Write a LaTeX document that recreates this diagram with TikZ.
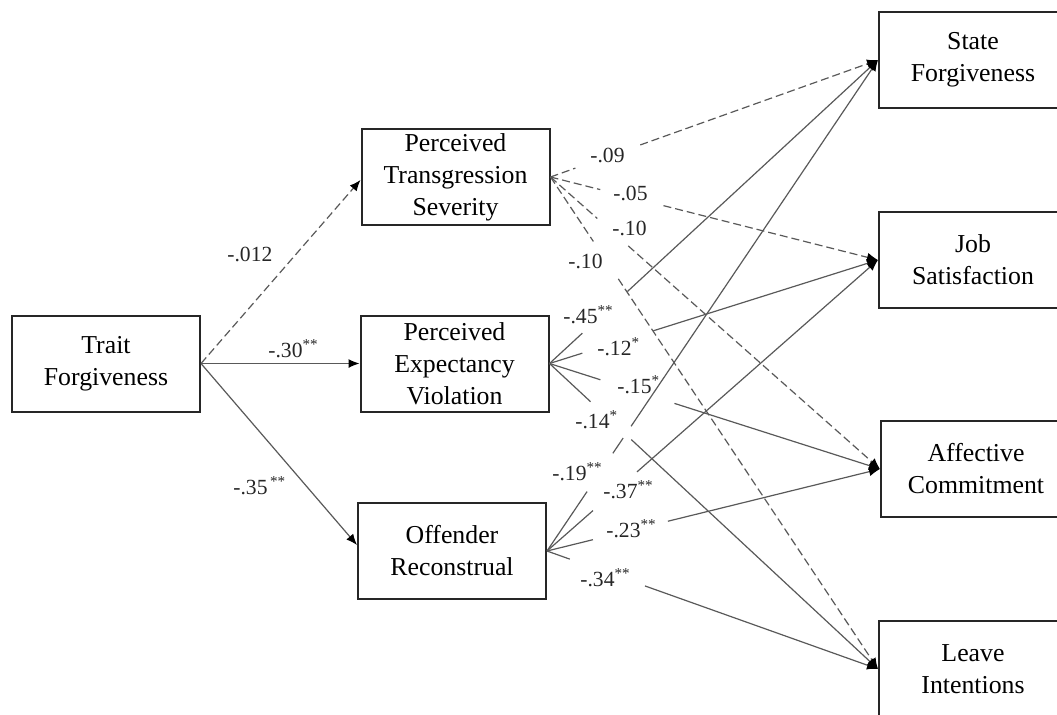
\documentclass[tikz,border=0pt]{standalone}
\usepackage{fontspec}
\setmainfont{Liberation Serif}
\usetikzlibrary{arrows.meta,calc}
\newcommand{\gapln}[5]{\draw[#1] (#2) -- ($(#2)!#4!(#3)$); \draw[#1,tip] ($(#2)!#5!(#3)$) -- (#3);}
\begin{document}
\begin{tikzpicture}[x=0.5pt,y=-0.5pt,
  box/.style={draw=black!85,line width=1pt,minimum width=94pt,minimum height=48pt,align=center,inner sep=0pt,font=\fontsize{12.9}{16}\selectfont},
  conn/.style={draw=black!65,line width=0.6pt},
  dsh/.style={conn,dash pattern=on 4pt off 2pt},
  tip/.style={-{Latex[length=5.5pt,width=4.5pt,color=black]}},
  lab/.style={anchor=base west,inner sep=0pt,font=\fontsize{10.8}{12}\selectfont,text=black!85}]
\useasboundingbox (0,0) rectangle (1057,714);
\clip (0,0) rectangle (1057,714);
% boxes
\node[box] (tf)  at (106,363.5) {Trait\\Forgiveness};
\node[box] (pts) at (455.5,177) {Perceived\\Transgression\\Severity};
\node[box] (pev) at (454.5,363.5) {Perceived\\Expectancy\\Violation};
\node[box] (or)  at (452,551) {Offender\\Reconstrual};
\node[box] (sf)  at (973,60) {State\\Forgiveness};
\node[box] (js)  at (973,260) {Job\\Satisfaction};
\node[box,minimum width=95pt] (ac)  at (976,469) {Affective\\Commitment};
\node[box] (li)  at (973,669) {Leave\\Intentions};
% trait forgiveness paths
\draw[dsh,tip] (tf.east) -- ($(pts.west)+(0,3)$);
\draw[conn,tip] (tf.east) -- (pev.west);
\draw[conn,tip] (tf.east) -- ($(or.west)+(0,-6)$);
% PTS paths
\gapln{dsh}{pts.east}{sf.west}{0.076}{0.274}
\gapln{dsh}{pts.east}{js.west}{0.152}{0.345}
\gapln{dsh}{pts.east}{ac.west}{0.142}{0.236}
\gapln{dsh}{pts.east}{li.west}{0.131}{0.207}
% PEV paths
\gapln{conn}{pev.east}{sf.west}{0.10}{0.237}
\gapln{conn}{pev.east}{js.west}{0.10}{0.316}
\gapln{conn}{pev.east}{ac.west}{0.154}{0.378}
\gapln{conn}{pev.east}{li.west}{0.125}{0.249}
% OR paths
\draw[conn] (or.east) -- ($(or.east)!0.121!(sf.west)$);
\draw[conn] ($(or.east)!0.199!(sf.west)$) -- ($(or.east)!0.230!(sf.west)$);
\draw[conn,tip] ($(or.east)!0.254!(sf.west)$) -- (sf.west);
\gapln{conn}{or.east}{js.west}{0.139}{0.272}
\gapln{conn}{or.east}{ac.west}{0.138}{0.363}
\gapln{conn}{or.east}{li.west}{0.069}{0.296}
% labels
\node[lab] (l1) at (227,261) {-.012};
\node[lab] (l2) at (268,357) {-.30\textsuperscript{**}};
\node[lab] (l3) at (233,494) {-.35\textsuperscript{\,**}};
\node[lab] (l4) at (590,162) {-.09};
\node[lab] (l5) at (613,200) {-.05};
\node[lab] (l6) at (612,235) {-.10};
\node[lab] (l7) at (568,268) {-.10};
\node[lab] (l8) at (563,323) {-.45\textsuperscript{**}};
\node[lab] (l9) at (597,355) {-.12\textsuperscript{*}};
\node[lab] (l10) at (617,393) {-.15\textsuperscript{*}};
\node[lab] (l11) at (575,428) {-.14\textsuperscript{*}};
\node[lab] (l12) at (552,480) {-.19\textsuperscript{**}};
\node[lab] (l13) at (603,498) {-.37\textsuperscript{**}};
\node[lab] (l14) at (606,537) {-.23\textsuperscript{**}};
\node[lab] (l15) at (580,586) {-.34\textsuperscript{**}};
\end{tikzpicture}
\end{document}
